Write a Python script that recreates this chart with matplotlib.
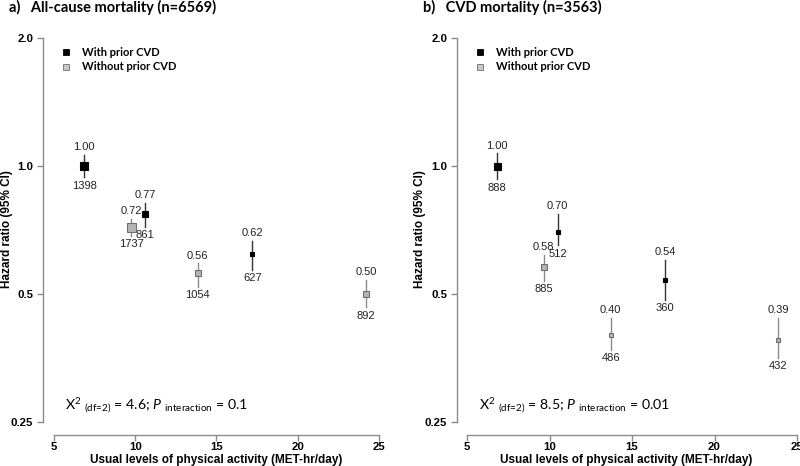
""" hazard ratio by usual physical activity, with / without prior CVD """

import matplotlib
matplotlib.use("Agg")
import matplotlib.pyplot as plt
from matplotlib.lines import Line2D
import numpy as np

""" 1. data read off the figure """

# a) all-cause mortality
a_with_x = [6.85, 10.6, 17.2]
a_with_hr = [1.00, 0.77, 0.62]
a_with_lo = [0.94, 0.72, 0.57]
a_with_hi = [1.06, 0.82, 0.665]
a_with_n = [1398, 861, 627]

a_without_x = [9.75, 13.85, 24.2]
a_without_hr = [0.72, 0.56, 0.50]
a_without_lo = [0.685, 0.52, 0.465]
a_without_hi = [0.75, 0.59, 0.54]
a_without_n = [1737, 1054, 892]

# b) CVD mortality
b_with_x = [6.8, 10.5, 17.0]
b_with_hr = [1.00, 0.70, 0.54]
b_with_lo = [0.93, 0.65, 0.485]
b_with_hi = [1.07, 0.77, 0.60]
b_with_n = [888, 512, 360]

b_without_x = [9.65, 13.7, 23.85]
b_without_hr = [0.58, 0.40, 0.39]
b_without_lo = [0.537, 0.37, 0.354]
b_without_hi = [0.618, 0.44, 0.44]
b_without_n = [885, 486, 432]

titles = ["a)   All-cause mortality (n=6569)", "b)   CVD mortality (n=3563)"]
chi_texts = [r"$\mathrm{X}^{2}\ {}_{\text{(df=2)}}$ = 4.6; $\mathit{P}\ {}_{\text{interaction}}$ = 0.1",
             r"$\mathrm{X}^{2}\ {}_{\text{(df=2)}}$ = 8.5; $\mathit{P}\ {}_{\text{interaction}}$ = 0.01"]

""" 2. style """

plt.rcParams['font.family'] = ['Liberation Sans', 'DejaVu Sans']
plt.rcParams['mathtext.fontset'] = 'custom'
plt.rcParams['mathtext.rm'] = 'Lato'
plt.rcParams['mathtext.it'] = 'Lato:italic'

W, H = 800, 466
fig = plt.figure(figsize=(8, 4.66), dpi=100)

spine_col = '#8c8c8c'
black_face = '#000000'
gray_face = '#b4b4b4'
gray_edge = '#6e6e6e'

# marker side in px (symbol size shown in the reference)
a_with_sz = [8, 6, 5]
a_without_sz = [9, 6, 6]
b_with_sz = [7, 5, 4]
b_without_sz = [6, 5, 4]


def px_ax(x0, x1, y0, y1):
    # axes from pixel box (top-left origin)
    return fig.add_axes([x0 / W, (H - y1) / H, (x1 - x0) / W, (y1 - y0) / H])


def draw_group(ax, xs, hr, lo, hi, ns, sizes, face, edge, ci_col):
    for i in range(len(xs)):
        ax.plot([xs[i], xs[i]], [lo[i], hi[i]], color=ci_col, lw=1.0, zorder=2)
        ax.plot(xs[i], hr[i], marker='s', ms=sizes[i] * 0.72, mfc=face, mec=edge,
                mew=0.8, ls='none', zorder=3)
        ax.annotate("%.2f" % hr[i], (xs[i], hi[i]), xytext=(0, 2), textcoords='offset points',
                    ha='center', va='bottom', fontsize=8, color='#222222')
        ax.annotate(str(ns[i]), (xs[i], lo[i]), xytext=(0, -2.5), textcoords='offset points',
                    ha='center', va='top', fontsize=8, color='#222222')


def setup_axes(ax, xlim):
    ax.set_yscale('log', base=2)
    ax.set_ylim(0.25, 2.087)
    ax.set_xlim(*xlim)
    ax.set_yticks([0.25, 0.5, 1.0, 2.0])
    ax.set_yticklabels(['0.25', '0.5', '1.0', '2.0'])
    ax.minorticks_off()
    ax.set_xticks([5, 10, 15, 20, 25])
    for s in ['top', 'right']:
        ax.spines[s].set_visible(False)
    ax.spines['left'].set_bounds(0.25, 2.0)
    ax.spines['bottom'].set_bounds(5, 25)
    ax.spines['bottom'].set_position(('outward', 9))
    for s in ['left', 'bottom']:
        ax.spines[s].set_color(spine_col)
        ax.spines[s].set_linewidth(1.0)
    ax.tick_params(axis='both', length=4, width=1.0, color=spine_col, labelsize=8.2, pad=3)
    ax.tick_params(axis='x', pad=1.5)
    for lab in ax.get_xticklabels() + ax.get_yticklabels():
        lab.set_fontweight('bold')
    ax.patch.set_visible(False)


""" 3. panels """

panels = [
    dict(box=(43, 385, 30, 422), xlim=(4.323, 25.37), tx=9, ylab_x=7, xlab_x=216,
         w=(a_with_x, a_with_hr, a_with_lo, a_with_hi, a_with_n, a_with_sz),
         wo=(a_without_x, a_without_hr, a_without_lo, a_without_hi, a_without_n, a_without_sz)),
    dict(box=(457, 800, 30, 422), xlim=(4.394, 25.18), tx=423, ylab_x=420, xlab_x=626,
         w=(b_with_x, b_with_hr, b_with_lo, b_with_hi, b_with_n, b_with_sz),
         wo=(b_without_x, b_without_hr, b_without_lo, b_without_hi, b_without_n, b_without_sz)),
]

for k, p in enumerate(panels):
    ax = px_ax(*p['box'])
    setup_axes(ax, p['xlim'])
    draw_group(ax, *p['w'], black_face, '#000000', '#333333')
    draw_group(ax, *p['wo'], gray_face, gray_edge, '#8a8a8a')

    # legend
    handles = [Line2D([], [], marker='s', ls='none', ms=4, mfc=black_face, mec='#000000', mew=0.6),
               Line2D([], [], marker='s', ls='none', ms=4.5, mfc='#c8c8c8', mec=gray_edge, mew=0.6)]
    ax.legend(handles, ['With prior CVD', 'Without prior CVD'], loc='upper left',
              bbox_to_anchor=((p['box'][0] + 12) / W, (H - 41) / H),
              bbox_transform=fig.transFigure, frameon=False, borderpad=0, handlelength=1.0,
              handletextpad=0.9, labelspacing=0.35,
              prop=dict(family='Lato', weight='bold', size=8))

    # chi-square text
    fig.text((p['box'][0] + 22) / W, 1 - 410 / H, chi_texts[k], ha='left', va='baseline',
             fontsize=10.2, family='Lato')

    # titles and axis labels
    fig.text(p['tx'] / W, 1 - 7 / H, titles[k], ha='left', va='center', fontsize=10.5,
             family='Lato', weight='bold')
    fig.text(p['ylab_x'] / W, 1 - 229 / H, 'Hazard ratio (95% CI)', rotation=90, ha='center',
             va='center', fontsize=8.5, weight='bold')
    fig.text(p['xlab_x'] / W, 1 - 460 / H, 'Usual levels of physical activity (MET-hr/day)',
             ha='center', va='center', fontsize=8.5, weight='bold')

fig.savefig('out.png', dpi=100)
